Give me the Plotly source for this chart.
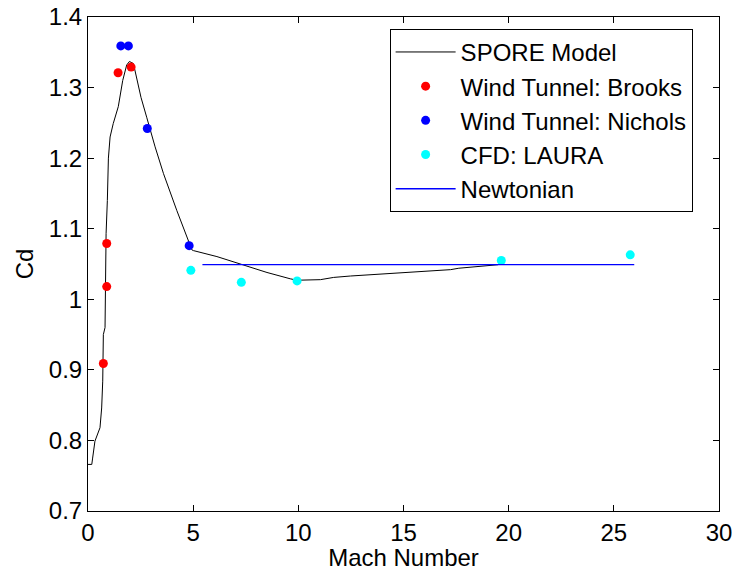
import plotly.graph_objects as go

# SPORE model curve
spore_mach = [0.00, 0.18, 0.22, 0.33, 0.57, 0.65, 0.70, 0.73, 0.81, 0.83, 0.86, 0.92, 0.97, 1.05,
              1.20, 1.44, 1.65, 1.84, 1.97, 2.16, 2.35, 2.52, 2.79, 3.19, 3.59, 4.22, 4.94,
              5.01, 6.13, 7.40, 8.51, 9.62, 9.94, 11.05, 11.68, 12.48, 14.0, 15.5, 17.24,
              17.63, 18.59, 19.06, 19.5]
spore_cd = [0.766, 0.766, 0.775, 0.799, 0.818, 0.846, 0.884, 0.950, 0.960, 1.000, 1.093, 1.140, 1.200, 1.230,
            1.249, 1.273, 1.310, 1.332, 1.337, 1.334, 1.310, 1.286, 1.258, 1.216, 1.178, 1.126, 1.070,
            1.069, 1.0605, 1.0487, 1.038, 1.029, 1.027, 1.0278, 1.031, 1.033, 1.036, 1.039, 1.042,
            1.044, 1.0463, 1.047, 1.049]

brooks_mach = [0.73, 0.89, 0.89, 1.43, 2.05]
brooks_cd = [0.909, 1.018, 1.079, 1.321, 1.329]

nichols_mach = [1.56, 1.92, 2.82, 4.81]
nichols_cd = [1.359, 1.359, 1.242, 1.076]

laura_mach = [4.89, 7.29, 9.94, 19.65, 25.78]
laura_cd = [1.041, 1.024, 1.026, 1.055, 1.063]

newton_mach = [5.44, 25.97]
newton_cd = [1.049, 1.049]

x_ticks = [0, 5, 10, 15, 20, 25, 30]
y_ticks = [0.7, 0.8, 0.9, 1.0, 1.1, 1.2, 1.3, 1.4]
y_labels = ["0.7", "0.8", "0.9", "1", "1.1", "1.2", "1.3", "1.4"]

FONT = "Liberation Sans, Arial, Helvetica, sans-serif"

fig = go.Figure()
fig.add_trace(go.Scatter(x=spore_mach, y=spore_cd, mode="lines", name="SPORE Model",
                         line=dict(color="black", width=1)))
fig.add_trace(go.Scatter(x=brooks_mach, y=brooks_cd, mode="markers", name="Wind Tunnel: Brooks",
                         marker=dict(color="#ff0000", size=9)))
fig.add_trace(go.Scatter(x=nichols_mach, y=nichols_cd, mode="markers", name="Wind Tunnel: Nichols",
                         marker=dict(color="#0000ff", size=9)))
fig.add_trace(go.Scatter(x=laura_mach, y=laura_cd, mode="markers", name="CFD: LAURA",
                         marker=dict(color="#00ffff", size=9)))
fig.add_trace(go.Scatter(x=newton_mach, y=newton_cd, mode="lines", name="Newtonian",
                         line=dict(color="#0000ff", width=1.3)))

axis_common = dict(showgrid=False, zeroline=False, showline=True, linecolor="black", linewidth=1,
                   mirror="ticks", ticks="inside", ticklen=6, tickcolor="black", tickwidth=1,
                   automargin=False, ticklabeloverflow="allow",
                   tickfont=dict(family=FONT, size=24, color="black"))

fig.update_layout(
    width=732, height=571,
    margin=dict(l=88, r=13, t=17, b=60),
    paper_bgcolor="white", plot_bgcolor="white",
    font=dict(family=FONT, size=24, color="black"),
    xaxis=dict(range=[0, 30], tickvals=x_ticks,
               title=dict(text="Mach Number", font=dict(family=FONT, size=24)),
               **axis_common),
    yaxis=dict(range=[0.7, 1.4], tickvals=y_ticks, ticktext=y_labels,
               title=dict(text="Cd", font=dict(family=FONT, size=24), standoff=8),
               **axis_common),
    legend=dict(x=0.478, y=0.976, xanchor="left", yanchor="top",
                bordercolor="black", borderwidth=1, bgcolor="white",
                font=dict(family=FONT, size=24, color="black"),
                itemwidth=60, tracegroupgap=0),
    showlegend=True,
)

fig.write_html("out.html")
